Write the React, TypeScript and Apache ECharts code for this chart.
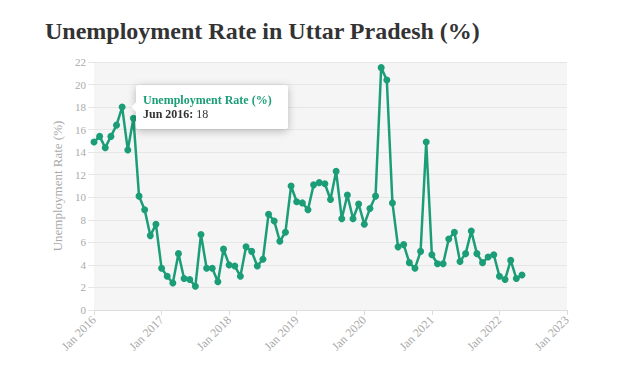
import React, { useEffect, useRef } from "react";
import * as echarts from "echarts";

const START_YEAR = 2016;
const MONTHS = ["Jan", "Feb", "Mar", "Apr", "May", "Jun", "Jul", "Aug", "Sep", "Oct", "Nov", "Dec"];
const YEAR_TICKS = [2016, 2017, 2018, 2019, 2020, 2021, 2022, 2023];
const unemploymentRate = [
  14.9, 15.4, 14.4, 15.4, 16.4, 18, 14.2, 17.0, 10.1, 8.9,
  6.6, 7.6, 3.7, 3.0, 2.4, 5.0, 2.8, 2.7, 2.1, 6.7,
  3.7, 3.7, 2.5, 5.4, 4.0, 3.9, 3.0, 5.6, 5.2, 3.9,
  4.5, 8.5, 7.9, 6.1, 6.9, 11.0, 9.6, 9.5, 8.9, 11.1,
  11.3, 11.2, 9.8, 12.3, 8.1, 10.2, 8.1, 9.4, 7.6, 9.0,
  10.1, 21.5, 20.4, 9.5, 5.6, 5.8, 4.2, 3.7, 5.2, 14.9,
  4.9, 4.1, 4.1, 6.3, 6.9, 4.3, 5.0, 7.0, 5.0, 4.2,
  4.7, 4.9, 3.0, 2.7, 4.4, 2.8, 3.1,
];
const HIGHLIGHT_INDEX = 5;

const GREEN = "#1b9e77";
const SERIF = "'Liberation Serif', 'Times New Roman', serif";

function monthLabel(idx: number) {
  return `${MONTHS[idx % 12]} ${START_YEAR + Math.floor(idx / 12)}`;
}

export default function App() {
  const ref = useRef<HTMLDivElement>(null);
  useEffect(() => {
    if (!ref.current) return;
    const chart = echarts.init(ref.current, undefined, { renderer: "svg" });
    const data = unemploymentRate.map((v, i) => [i, v]);
    chart.setOption({
      animation: false,
      title: {
        text: "Unemployment Rate in Uttar Pradesh (%)",
        left: 40,
        top: 14,
        textStyle: { fontFamily: SERIF, fontSize: 24, fontWeight: "bold", color: "#333" },
      },
      grid: {
        left: 94,
        right: 70,
        top: 62,
        bottom: 58,
        show: true,
        backgroundColor: "#f5f5f5",
        borderWidth: 0,
      },
      tooltip: {
        trigger: "item",
        triggerOn: "none",
        alwaysShowContent: true,
        position: "right",
        transitionDuration: 0,
        backgroundColor: "#fff",
        borderColor: "#fff",
        borderWidth: 1,
        padding: [7, 15, 7, 6],
        extraCssText: "box-shadow: 0 2px 8px rgba(0,0,0,0.25); border-radius: 2px;",
        textStyle: { fontFamily: SERIF, fontSize: 12, color: "#333" },
        formatter: (p: any) =>
          `<div style="line-height:14px"><b style="color:${GREEN}">Unemployment Rate (%)</b><br/><b>${monthLabel(
            p.data[0]
          )}:</b> ${p.data[1]}</div>`,
      },
      xAxis: {
        type: "value",
        min: 0,
        max: (YEAR_TICKS.length - 1) * 12,
        interval: 12,
        axisLine: { show: true, lineStyle: { color: "#ddd" } },
        axisTick: { show: true, length: 5, lineStyle: { color: "#ddd" } },
        splitLine: { show: false },
        axisLabel: {
          rotate: 45,
          color: "#aaa",
          fontFamily: SERIF,
          fontSize: 12,
          margin: 8,
          formatter: (v: number) => `Jan ${YEAR_TICKS[Math.round(v / 12)]}`,
        },
      },
      yAxis: {
        type: "value",
        min: 0,
        max: 22,
        interval: 2,
        name: "Unemployment Rate (%)",
        nameLocation: "middle",
        nameGap: 26,
        nameTextStyle: { fontFamily: SERIF, fontSize: 13, color: "#aaa" },
        axisLine: { show: false },
        axisTick: { show: true, length: 6, lineStyle: { color: "#e6e6e6" } },
        splitLine: { show: true, lineStyle: { color: "#e6e6e6", width: 1 } },
        axisLabel: { color: "#aaa", fontFamily: SERIF, fontSize: 11, margin: 8 },
      },
      series: [
        {
          type: "line",
          name: "Unemployment Rate (%)",
          data,
          symbol: "circle",
          symbolSize: 7,
          showSymbol: true,
          lineStyle: { color: GREEN, width: 2.5 },
          itemStyle: { color: GREEN },
          emphasis: { disabled: true },
        },
      ],
    });
    chart.dispatchAction({ type: "showTip", seriesIndex: 0, dataIndex: HIGHLIGHT_INDEX });
    return () => chart.dispose();
  }, []);
  return (
    <div style={{ position: "fixed", left: 0, top: 0, width: 637, height: 368, background: "#fff" }}>
      <div ref={ref} style={{ width: 637, height: 368 }} />
    </div>
  );
}
